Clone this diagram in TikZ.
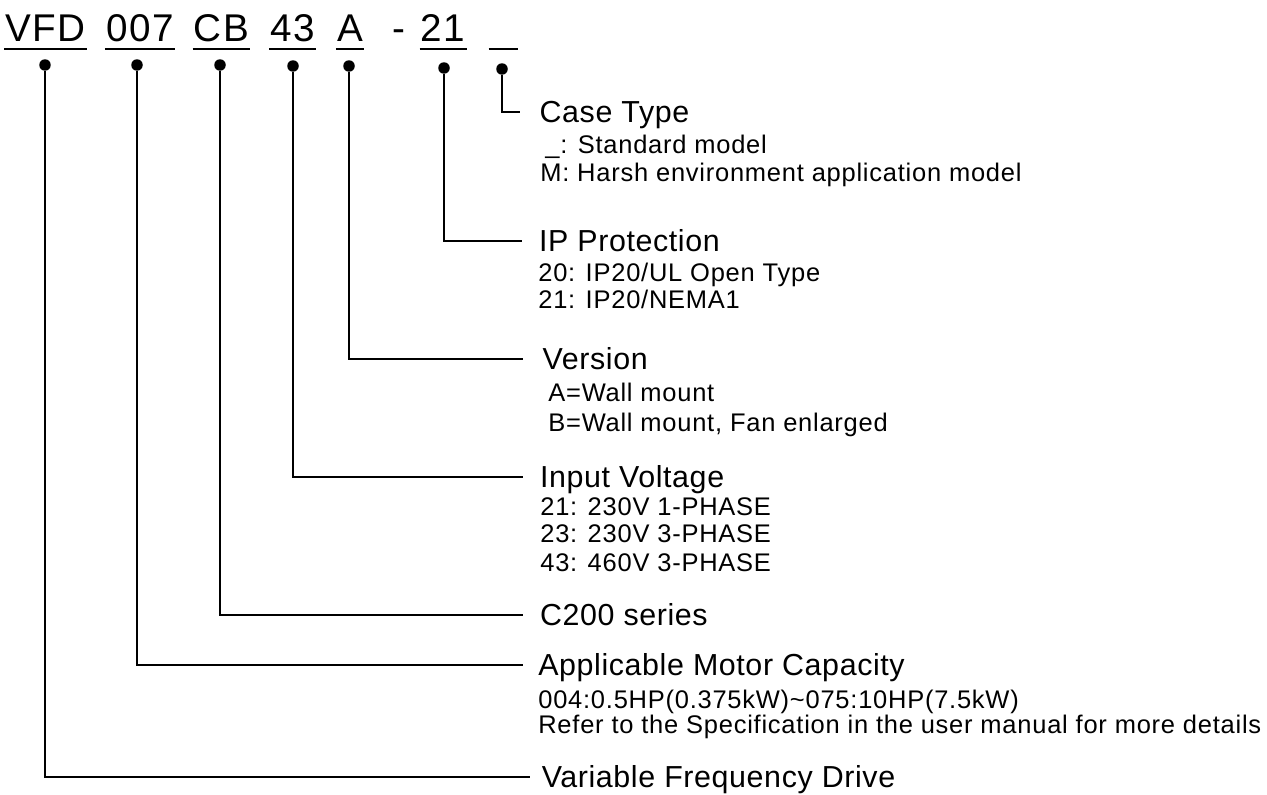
\documentclass[tikz,border=0pt]{standalone}
\usepackage{fontspec}
\setmainfont{Liberation Sans}
\newfontfamily\codefont{Liberation Sans}[LetterSpace=4]
\newfontfamily\titlefont{Liberation Sans}[LetterSpace=2]
\newfontfamily\subfont{Liberation Sans}[LetterSpace=3]
\usetikzlibrary{positioning}
\tikzset{
  codetxt/.style={font=\codefont\fontsize{22}{24}\selectfont, inner xsep=0.5pt, inner ysep=0pt, anchor=base},
  uline/.style={line width=0.8pt},
  dot/.style={circle, fill=black, inner sep=0pt, minimum size=0.23cm},
  lead/.style={line width=0.7pt},
  titletxt/.style={font=\titlefont\fontsize{17.3}{20}\selectfont, inner xsep=9.5pt, inner ysep=0pt,
                   text height=12.4pt, text depth=0pt, anchor=west},
  subtxt/.style={font=\subfont\fontsize{14.5}{16}\selectfont, inner sep=0pt,
                 text height=10.2pt, text depth=0pt, anchor=west}}
\begin{document}
\begin{tikzpicture}[x=0.02cm, y=-0.02cm]
    \useasboundingbox (0,0) rectangle (1267,794);
    % model code
    \node[codetxt] (cvfd) at (45.5,42) {VFD};
    \node[codetxt] (ccap) at (140,42) {007};
    \node[codetxt] (cser) at (221.5,42) {CB};
    \node[codetxt] (cvolt) at (292.5,42) {43};
    \node[codetxt] (cver) at (350,42) {A};
    \node[codetxt] (chyph) at (399,42) {-};
    \node[codetxt] (cip) at (443,42) {21};
    \node[codetxt, minimum width=16.5pt] (cct) at (503.5,42) {};
    \foreach \c in {cvfd,ccap,cser,cvolt,cver,cip}
      \draw[uline] ([yshift=-4pt]\c.base west) -- ([yshift=-4pt]\c.base east);
    \draw[line width=1.5pt] ([yshift=-4pt]cct.base west) -- ([yshift=-4pt]cct.base east);
    % dots
    \node[dot] (dvfd) at (45,65) {};
    \node[dot] (dcap) at (137,65) {};
    \node[dot] (dser) at (220,65) {};
    \node[dot] (dvolt) at (293,66) {};
    \node[dot] (dver) at (349,66) {};
    \node[dot] (dip) at (444,68) {};
    \node[dot] (dct) at (502,69) {};
    % field titles
    \node[titletxt, inner xsep=11pt] (ctype) at (520,112) {Case Type};
    \node[titletxt] (ipprot) at (522,241) {IP Protection};
    \node[titletxt, inner xsep=11pt] (version) at (523,359) {Version};
    \node[titletxt] (involt) at (523,477) {Input Voltage};
    \node[titletxt] (series) at (523,615) {C200 series};
    \node[titletxt, inner xsep=8.5pt] (motorcap) at (523,665) {Applicable Motor Capacity};
    \node[titletxt, inner xsep=6.5pt] (vfdname) at (530,777) {Variable Frequency Drive};
    % field values
    \node[subtxt] (ct1) at (545,145) {\_: Standard model};
    \node[subtxt] (ct2) at (540,173) {M: Harsh environment application model};
    \node[subtxt] (ip1) at (538,273) {20: IP20/UL Open Type};
    \node[subtxt] (ip2) at (538,300) {21: IP20/NEMA1};
    \node[subtxt] (ver1) at (548,393) {A=Wall mount};
    \node[subtxt] (ver2) at (548,423) {B=Wall mount, Fan enlarged};
    \node[subtxt] (vo1) at (540,507) {21: 230V 1-PHASE};
    \node[subtxt] (vo2) at (540,534) {23: 230V 3-PHASE};
    \node[subtxt] (vo3) at (540,563) {43: 460V 3-PHASE};
    \node[subtxt] (cap1) at (538,700) {004:0.5HP(0.375kW)\textasciitilde075:10HP(7.5kW)};
    \node[subtxt] (cap2) at (538,725) {Refer to the Specification in the user manual for more details};
    % leaders
    \draw[lead] (dct) |- (ctype);
    \draw[lead] (dip) |- (ipprot);
    \draw[lead] (dver) |- (version);
    \draw[lead] (dvolt) |- (involt);
    \draw[lead] (dser) |- (series);
    \draw[lead] (dcap) |- (motorcap);
    \draw[lead] (dvfd) |- (vfdname);
\end{tikzpicture}
\end{document}
